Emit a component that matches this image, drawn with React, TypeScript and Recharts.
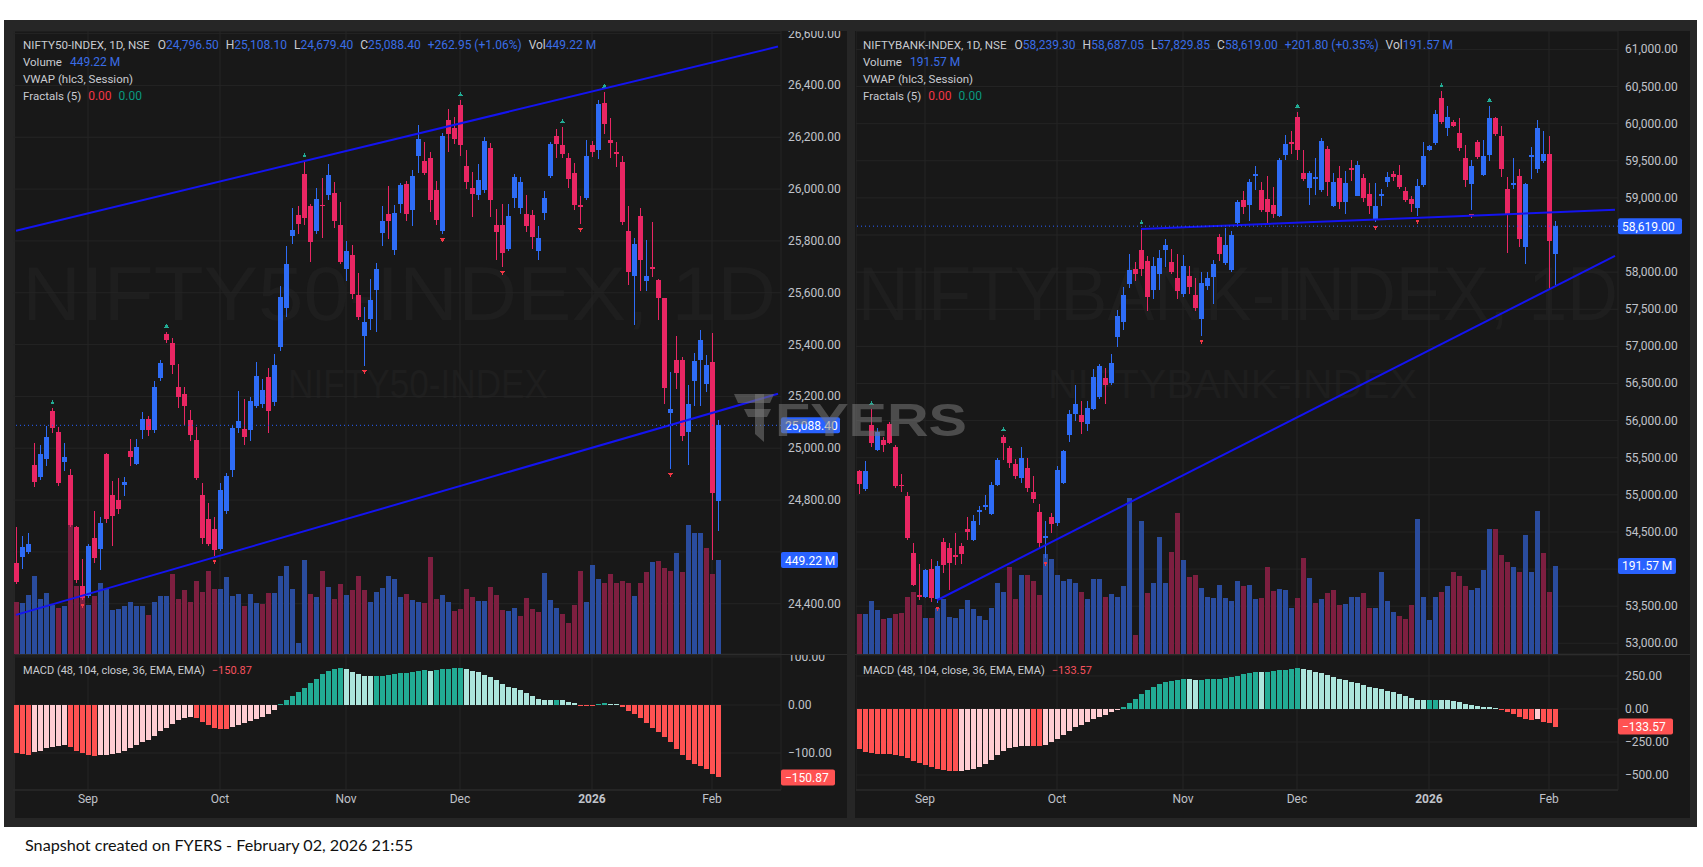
import React from "react"
import {
  ComposedChart,
  Bar,
  XAxis,
  YAxis,
  CartesianGrid,
  ReferenceLine,
} from "recharts"

const FONT = "Roboto, 'Liberation Sans', Arial, sans-serif"
const UP = "#2e6cf6"
const DOWN = "#e92663"
const VOL_UP = "#2a4c9e"
const VOL_DOWN = "#7d1f40"
const M_UP = "#22ab94"
const M_UP_WEAK = "#ace5dc"
const M_DN = "#ff5252"
const M_DN_WEAK = "#ffcdd2"
const PANE_BG = "#181818"
const FRAME_BG = "#262626"
const GRID = "#242424"
const AXIS_TEXT = "#c0c3ca"
const LABEL = "#c9cbd1"
const VALUE = "#3a6de6"
const TREND = "#1414f0"

// x axis: one slot per session, plus empty slots on the right
const SLOTS = 128
const MONTH_TICKS = [12, 34, 55, 74, 96, 116]
const MONTH_LABELS = ["Sep", "Oct", "Nov", "Dec", "2026", "Feb"]

// ---------- NIFTY50 (sessions 0..117) ----------
const N50_OPEN = [24556,24581,24601,24936,24888,24959,25142,25063,24945,24896, 24697,24468,24431,24652,24612,24977,24818,24800,24859,24989, 24940,25069,25114,25069,25272,25441,25408,25238,25210,25110, 25033,24818,24726,24689,24611,24756,24915,25077,25076,25069, 25162,25172,25275,25179,25390,25541,25819,25900,26058,25934, 25838,25940,25978,25984,25860,25693,25745,25590,25432,25498, 25612,25830,25903,25764,25944,26018,25918,26129,26107,26121, 25996,25839,26265,26235,26324,26089,26003,25978,25996,26158, 25863,25863,25767,25967,25928,25904,25899,25762,25907,26049, 26203,26172,26120,26062,25939,25967,26172,26151,26332,26191, 26143,26104,25838,25665,25896,25647,25698,25649,25578,25137, 25340,25340,25062,25258,25340,25246,25332,24796.5]
const N50_HIGH = [24697,24660,24671,25021,25014,25085,25154,25083,25021,24918, 24700,24571,24630,24756,24733,24980,24874,24886,24889,25036, 25036,25140,25125,25258,25339,25450,25427,25324,25236,25147, 25083,24866,24788,24733,24866,24906,25088,25221,25191,25196, 25331,25268,25309,25364,25627,25779,25926,25934,26107,25944, 26003,26043,26096,26028,25951,25801,25786,25678,25545,25653, 25715,25934,26011,25937,26025,26030,26073,26247,26180,26144, 26030,26217,26309,26279,26343,26151,26065,26096,26200,26176, 25922,25944,25943,26057,26046,25978,25920,25857,25994,26183, 26230,26239,26140,26101,25975,26191,26187,26345,26376,26274, 26180,26128,25935,25810,25928,25802,25873,25652,25581,25295, 25432,25353,25243,25369,25455,25361,25443,25108.1]
const N50_LOW = [24475,24534,24593,24852,24878,24930,25058,24856,24911,24697, 24479,24416,24423,24556,24531,24711,24623,24748,24815,24933, 24936,25036,25046,25058,25258,25405,25287,25154,25088,25026, 24878,24630,24623,24586,24605,24748,24889,25058,25014,25029, 25154,25154,25058,25162,25376,25506,25789,25826,25863,25718, 25826,25811,25959,25848,25711,25644,25575,25494,25317,25457, 25450,25782,25807,25745,25907,25878,25856,26062,26055,25912, 25860,25826,26144,26173,26126,25999,25892,25956,25984,25892, 25727,25700,25762,25928,25904,25833,25770,25726,25880,26041, 26120,26120,26006,25920,25865,25959,26124,26117,26211,26120, 26085,25860,25628,25474,25605,25605,25660,25495,25172,24920, 25227,25027,24936,25164,25164,25216,24570,24679.4]
const N50_CLOSE = [24482,24620,24630,24869,24977,25044,25080,24866,24967,24704, 24490,24423,24623,24575,24711,24726,24738,24767,24869,24967, 25004,25113,25069,25236,25327,25417,25321,25196,25162,25051, 24884,24652,24630,24608,24837,24892,25077,25105,25043,25181, 25280,25225,25143,25321,25585,25711,25844,25866,25890,25794, 25963,25934,26055,25875,25720,25763,25594,25506,25489,25571, 25693,25875,25875,25907,26014,25904,26050,26192,26062,25956, 25882,26205,26213,26195,26170,26028,25981,26036,26185,25959, 25836,25752,25896,26046,26027,25857,25817,25813,25967,26175, 26175,26137,26038,25940,25932,26128,26145,26329,26250,26176, 26137,25873,25680,25789,25726,25665,25691,25581,25232,25153, 25290,25046,25172,25337,25416,25321,24825.45,25088.4]
const N50_VOLUME = [247,243,283,375,262,293,234,221,229,618, 326,326,234,276,340,313,212,216,230,247, 229,230,188,247,276,276,384,262,304,247, 348,294,395,311,313,368,276,285,230,289, 243,238,293,293,375,423,313,51,450,289, 271,399,322,262,335,280,307,375,307,247, 298,316,375,357,271,285,256,247,243,466, 265,280,247,207,216,311,271,252,252,322, 280,212,207,220,181,269,215,201,386,256, 220,191,146,236,396,250,425,357,341,382, 338,347,341,279,341,390,439,445,410,396, 484,392,617,577,577,507,382,449.22]
const N50_MACD = [-101,-103,-104,-98,-96,-90,-87,-85,-84,-88, -95,-100,-104,-106,-105,-104,-102,-99,-95,-90, -84,-78,-72,-64,-55,-47,-39,-32,-27,-25, -28,-35,-42,-47,-50,-51,-46,-42,-38,-33, -29,-25,-18,-10,3,10,18,27,36,45, 55,64,70,74,76,74,69,65,61,60, 60,61,63,65,66,67,69,71,73,70, 72,74,75,76,76,74,71,68,63,58, 52,44,38,35,31,25,18,13,11,10, 11,10,7,4,-2,-3,-3,3,5,3, 1,-5,-13,-18,-28,-38,-47,-56,-66,-77, -92,-105,-114,-123,-128,-133,-143,-150.87]
const N50_FRACTAL_UP = [6, 25, 48, 74, 91, 98]
const N50_FRACTAL_DOWN = [11, 33, 58, 71, 81, 94, 109]
const N50_PRICE_TICKS = [24400, 24600, 24800, 25000, 25200, 25400, 25600, 25800, 26000, 26200, 26400, 26600]
const N50_TRENDS = [
  [[0, 25839], [127, 26550]],
  [[0, 24357], [127, 25210]],
]

// ---------- NIFTYBANK (sessions 1..117) ----------
const BANK_OPEN = [55315,55073,55934,55599,55738,55960,55640,55135,54980,54222, 53650,53624,54001,53599,54362,54285,54186,54310,54542,54387, 54764,54841,54748,55135,55779,55625,55419,55228,55367,55042, 54774,54424,54697,54620,55161,55805,56089,56073,55950,56156, 56321,56568,56501,57120,57326,57841,58048,58295,58151,57764, 57981,58295,58140,57919,57702,57944,57697,57362,57816,57934, 58475,58125,58022,58666,58975,58898,59295,59104,58986,58908, 58759,59579,59749,60094,59336,59130,59259,59104,59656,58888, 59269,58949,59400,59032,59268,59059,58702,59021,59208,59323, 59307,59087,58988,58867,59169,59648,59736,60351,59939,60022, 59873,59538,59186,59747,59307,59571,60077,59829,59114,59175, 59296,58345,59554,59389,59499,59593,58239.3]
const BANK_HIGH = [55341,55455,56156,55898,55779,55986,55676,55279,55042,54351, 54063,54001,54130,54104,54424,54351,54490,54351,54697,54733, 54851,54996,55171,55496,55805,55661,55486,55640,55496,55248, 54877,54645,54759,55393,55599,56140,56475,56269,56269,56692, 56759,56707,56898,57496,57805,58238,58135,58589,58218,58202, 58295,58444,58315,58238,58228,58089,57919,57996,57996,58166, 58511,58589,58553,58975,59094,59259,59424,59218,59295,59146, 59542,59852,59903,60161,59646,59362,59542,59800,59697,59336, 59424,59362,59516,59499,59318,59197,59197,59125,59351,59362, 59444,59142,59021,59252,59747,59719,60186,60434,60241,60049, 60077,59719,59510,59774,59774,60241,60088,59967,59279,59543, 59389,59197,59681,60049,59901,59840,58687.05]
const BANK_LOW = [55016,55058,55640,55589,55573,55687,55094,55032,54387,53769, 53588,53614,53563,53547,53950,53717,54053,54063,54387,54372, 54594,54800,54733,55125,55470,55367,55212,55161,55032,54887, 54284,54155,54490,54578,55145,55712,56001,55815,55857,56140, 56295,56218,56475,56991,57223,57790,57877,57944,57470,57635, 57764,58073,57970,57635,57671,57712,57480,57146,57764,57573, 58151,58099,58006,58604,58785,58682,59104,58810,58651,58733, 58744,59517,59594,59506,59233,58908,59042,59079,59027,58872, 58847,58784,59224,59021,58949,58785,58674,58894,59153,59224, 59114,58949,58812,58760,59153,59626,59719,59994,59840,59956, 59637,59142,58839,59527,59296,59499,59829,59279,58262,59114, 58345,58114,59252,59334,59472,57767,57829.85]
const BANK_CLOSE = [55145,55315,55702,55846,55676,55702,55125,55114,54413,53784, 53630,53985,53614,54042,54053,54078,54166,54197,54506,54645, 54800,54862,55135,55470,55702,55434,55248,55496,55094,54939, 54351,54449,54609,55341,55589,56089,56218,55986,56176,56589, 56733,56475,56774,57403,57687,58022,57981,58048,57671,58089, 58192,58367,58006,57749,58083,57805,57517,57852,57919,58115, 58243,58367,58501,58950,58872,59208,59326,58836,58810,58785, 59506,59723,59728,59646,59249,59336,59280,59764,59218,59208, 58939,59197,59378,59444,58993,58894,58894,59059,59279,59279, 59142,58977,58911,59158,59565,59697,60131,60022,60093,59967, 59675,59235,59428,59554,59565,60077,59867,59389,58773,59197, 58444,59186,59576,59939,59593,58417.2,58619]
const BANK_VOLUME = [87,86,115,96,76,79,87,90,125,136, 107,79,79,101,119,80,79,97,117,98, 82,75,101,155,136,190,119,172,172,159, 129,217,207,172,158,163,154,136,119,163, 163,125,130,125,148,340,42,290,133,154, 255,154,222,307,205,167,171,144,125,121, 151,122,115,158,147,151,119,122,190,137, 142,140,101,122,208,165,112,119,133,140, 107,109,125,123,132,100,100,179,116,92, 83,76,107,294,124,74,124,136,148,179, 170,148,139,143,183,271,271,216,200,189, 179,259,179,311,220,136,191.57]
const BANK_MACD = [-305,-325,-336,-338,-340,-341,-345,-360,-375,-395, -412,-428,-442,-457,-462,-467,-470,-468,-465,-455, -440,-415,-385,-350,-318,-298,-285,-280,-278,-280, -282,-270,-248,-225,-195,-165,-140,-120,-98,-78, -60,-42,-20,-5,15,45,78,110,140,170, 190,205,213,220,225,224,222,223,224,225, 227,235,243,250,262,275,282,280,283,285, 292,298,305,308,300,292,283,272,255,240, 230,220,208,196,180,170,158,148,135,125, 112,100,80,68,66,68,69,68,67,60, 52,40,30,22,15,12,6,-3,-20,-38, -60,-75,-80,-78,-95,-108,-133.57]
const BANK_FRACTAL_UP = [3, 25, 48, 74, 98, 106]
const BANK_FRACTAL_DOWN = [14, 32, 58, 87, 94, 103]
const BANK_PRICE_TICKS = [53000, 53500, 54000, 54500, 55000, 55500, 56000, 56500, 57000, 57500, 58000, 58500, 59000, 59500, 60000, 60500, 61000]
const BANK_TRENDS = [
  [[48, 58580], [127, 58840]],
  [[14, 53580], [127, 58220]],
]

function buildRows(first, open, high, low, close, vol, macd, fracUp, fracDown) {
  const rows: any[] = []
  for (let i = first; i < SLOTS; i++) {
    const k = i - first
    if (k >= open.length) {
      rows.push({ i })
      continue
    }
    const prevClose = k > 0 ? close[k - 1] : open[k]
    const prevM = k > 0 ? macd[k - 1] : macd[k]
    const m = macd[k]
    rows.push({
      i,
      o: open[k],
      h: high[k],
      l: low[k],
      c: close[k],
      v: vol[k],
      vUp: close[k] >= prevClose,
      m,
      mCol: m >= 0 ? (m >= prevM ? M_UP : M_UP_WEAK) : m <= prevM ? M_DN : M_DN_WEAK,
      fu: fracUp.includes(i),
      fd: fracDown.includes(i),
    })
  }
  return rows
}

function fmt2(v: number) {
  const a = Math.abs(v).toFixed(2).split(".")
  const int = a[0].replace(/\B(?=(\d{3})+(?!\d))/g, ",")
  return (v < 0 ? "\u2212" : "") + int + "." + a[1]
}

function Candle(props: any) {
  const { x, y, width, height, payload } = props
  if (!payload || payload.o == null || !isFinite(y) || !isFinite(height)) return <g />
  const { o, h, l, c } = payload
  const top = Math.min(y, y + height)
  const span = Math.abs(height)
  const py = (v: number) => top + (h === l ? 0 : ((h - v) / (h - l)) * span)
  const cx = Math.round(x + width / 2 - 0.5)
  const col = c >= o ? UP : DOWN
  const bTop = Math.round(py(Math.max(o, c)))
  const bBot = Math.max(bTop + 1, Math.round(py(Math.min(o, c))))
  return (
    <g shapeRendering="crispEdges">
      <rect x={cx} y={top} width={1} height={Math.max(1, span)} fill={col} />
      <rect x={cx - 2} y={bTop} width={5} height={bBot - bTop} fill={col} />
      {payload.fu && <path d={`M${cx + 0.5} ${top - 8} l2.5 4 h-5 z`} fill="#22ab94" />}
      {payload.fd && <path d={`M${cx + 0.5} ${top + span + 8} l2.5 -4 h-5 z`} fill="#f23645" />}
    </g>
  )
}

function VolBar(props: any) {
  const { x, y, width, height, payload } = props
  if (!payload || payload.v == null || !isFinite(y) || !isFinite(height)) return <g />
  const cx = Math.round(x + width / 2 - 0.5)
  const t = Math.round(Math.min(y, y + height))
  const b = Math.round(Math.max(y, y + height))
  return <rect x={cx - 2} y={t} width={5} height={b - t} fill={payload.vUp ? VOL_UP : VOL_DOWN} shapeRendering="crispEdges" />
}

function MacdBar(props: any) {
  const { x, y, width, height, payload } = props
  if (!payload || payload.m == null || !isFinite(y) || !isFinite(height)) return <g />
  const cx = Math.round(x + width / 2 - 0.5)
  const t = Math.round(Math.min(y, y + height))
  const b = Math.max(t + 1, Math.round(Math.max(y, y + height)))
  return <rect x={cx - 2} y={t} width={5} height={b - t} fill={payload.mCol} shapeRendering="crispEdges" />
}

function Tag(props: any) {
  const { viewBox, text, bg, w } = props
  if (!viewBox) return <g />
  const x = viewBox.x + viewBox.width
  const y = viewBox.y
  return (
    <g>
      <rect x={x} y={y - 8} width={w} height={16} rx={2} fill={bg} />
      <text x={x + 4} y={y + 4.5} fill="#fff" fontSize={12} fontFamily={FONT}>
        {text}
      </text>
    </g>
  )
}

const makePriceTick = (hidden: number[]) => (p: any) => {
  const v = p.payload.value
  if (hidden.includes(v)) return <g />
  return (
    <text x={p.x} y={p.y} dy={4} textAnchor="start" fill={AXIS_TEXT} fontSize={12} fontFamily={FONT}>
      {fmt2(v)}
    </text>
  )
}

function DateTick(p: any) {
  const label = MONTH_LABELS[MONTH_TICKS.indexOf(p.payload.value)]
  return (
    <text x={p.x} y={p.y} dy={13} textAnchor="middle" fill={AXIS_TEXT} fontSize={12}
      fontWeight={label === "2026" ? 700 : 400} fontFamily={FONT}>
      {label}
    </text>
  )
}

function Line1({ x, title, ohlc, change, vol }) {
  return (
    <div style={{ position: "absolute", left: x, top: 38, fontSize: 12, lineHeight: "14px", color: LABEL, whiteSpace: "nowrap" }}>
      <span style={{ fontSize: 11.6 }}>{title}</span>
      {ohlc.map(([k, v], n) => (
        <span key={k} style={{ marginLeft: n === 0 ? 8 : 7 }}>
          {k}
          <span style={{ color: VALUE }}>{v}</span>
        </span>
      ))}
      <span style={{ marginLeft: 7, color: VALUE }}>{change}</span>
      <span style={{ marginLeft: 7 }}>
        Vol<span style={{ color: VALUE }}>{vol}</span>
      </span>
    </div>
  )
}

function Panel({ cfg }) {
  const {
    paneLeft, paneWidth, chartLeft, axisWidth, rows, priceDomain, priceTicks, hiddenTicks,
    volDomain, macdDomain, macdTicks, trends, last, lastVol, lastMacd, tagW, title, ohlc,
    change, wm1, wm2,
  } = cfg
  const chartWidth = paneLeft + paneWidth - chartLeft
  const text = { position: "absolute" as const, left: paneLeft + 8, fontSize: 11.5, lineHeight: "14px", color: LABEL, whiteSpace: "nowrap" as const }
  return (
    <>
      <div style={{ position: "absolute", left: paneLeft, top: 31, width: paneWidth, height: 787, background: PANE_BG }} />
      <svg style={{ position: "absolute", left: paneLeft, top: 31 }} width={paneWidth} height={623}>
        <text x={wm1.x} y={289} fontSize={76} fill="#1e1e1e" fontFamily="'Liberation Sans', Arial"
          textLength={wm1.w} lengthAdjust="spacingAndGlyphs">{wm1.text}</text>
        <text x={wm2.x} y={367} fontSize={40} fill="#1e1e1e" fontFamily="'Liberation Sans', Arial"
          textLength={wm2.w} lengthAdjust="spacingAndGlyphs">{wm2.text}</text>
      </svg>

      <div style={{ position: "absolute", left: chartLeft, top: 31 }}>
        <ComposedChart width={chartWidth} height={623} data={rows} margin={{ top: 0, right: 0, bottom: 0, left: 0 }}>
          <CartesianGrid xAxisId="c" yAxisId="p" stroke={GRID} />
          <XAxis xAxisId="c" dataKey="i" type="category" hide ticks={MONTH_TICKS} />
          <XAxis xAxisId="vx" dataKey="i" type="category" hide />
          <YAxis yAxisId="p" orientation="right" width={axisWidth} domain={priceDomain} allowDataOverflow
            ticks={priceTicks} interval={0} tickLine={false} axisLine={false} tickSize={0} tickMargin={7}
            tick={makePriceTick(hiddenTicks)} />
          <YAxis yAxisId="v" hide domain={volDomain} allowDataOverflow />
          <Bar xAxisId="vx" yAxisId="v" dataKey="v" shape={(p: any) => <VolBar {...p} />} isAnimationActive={false} />
          <Bar xAxisId="c" yAxisId="p" dataKey={(d: any) => (d.l != null ? [d.l, d.h] : undefined)}
            shape={(p: any) => <Candle {...p} />} isAnimationActive={false} />
          {trends.map((t, k) => (
            <ReferenceLine key={k} xAxisId="c" yAxisId="p" ifOverflow="visible" stroke={TREND} strokeWidth={2}
              segment={[{ x: t[0][0], y: t[0][1] }, { x: t[1][0], y: t[1][1] }]} />
          ))}
          <ReferenceLine xAxisId="c" yAxisId="p" y={last} stroke="#2962ff" strokeDasharray="1 3"
            label={<Tag text={fmt2(last)} bg="#2962ff" w={tagW[0]} />} />
          <ReferenceLine xAxisId="c" yAxisId="v" y={lastVol} stroke="none"
            label={<Tag text={lastVol.toFixed(2) + " M"} bg="#2962ff" w={tagW[1]} />} />
        </ComposedChart>
      </div>

      <div style={{ position: "absolute", left: paneLeft, top: 654, width: paneWidth, height: 1, background: "#2c2c2c" }} />

      <div style={{ position: "absolute", left: chartLeft, top: 655 }}>
        <ComposedChart width={chartWidth} height={163} data={rows} margin={{ top: 0, right: 0, bottom: 0, left: 0 }}>
          <CartesianGrid stroke={GRID} />
          <XAxis dataKey="i" type="category" ticks={MONTH_TICKS} interval={0} height={28} tickLine={false}
            tickSize={0} tickMargin={0} axisLine={{ stroke: "#2c2c2c" }} tick={(p: any) => <DateTick {...p} />} />
          <YAxis orientation="right" width={axisWidth} domain={macdDomain} allowDataOverflow ticks={macdTicks}
            interval={0} tickLine={false} axisLine={false} tickSize={0} tickMargin={7} tick={makePriceTick([])} />
          <Bar dataKey="m" shape={(p: any) => <MacdBar {...p} />} isAnimationActive={false} />
          <ReferenceLine y={lastMacd} stroke="none" label={<Tag text={fmt2(lastMacd)} bg="#ff5252" w={tagW[2]} />} />
        </ComposedChart>
      </div>

      <Line1 x={paneLeft + 8} title={title} ohlc={ohlc} change={change} vol={lastVol.toFixed(2) + " M"} />
      <div style={{ ...text, top: 55 }}>
        Volume<span style={{ color: VALUE, marginLeft: 8, fontSize: 12 }}>{lastVol.toFixed(2) + " M"}</span>
      </div>
      <div style={{ ...text, top: 72 }}>VWAP (hlc3, Session)</div>
      <div style={{ ...text, top: 89 }}>
        Fractals (5)<span style={{ color: "#f23645", marginLeft: 7, fontSize: 12 }}>0.00</span>
        <span style={{ color: "#089981", marginLeft: 7, fontSize: 12 }}>0.00</span>
      </div>
      <div style={{ ...text, fontSize: 11, top: 664 }}>
        MACD (48, 104, close, 36, EMA, EMA)<span style={{ color: "#f7525f", marginLeft: 7 }}>{fmt2(lastMacd)}</span>
      </div>
    </>
  )
}

const N50 = {
  paneLeft: 15, paneWidth: 832, chartLeft: 13, axisWidth: 66,
  rows: buildRows(0, N50_OPEN, N50_HIGH, N50_LOW, N50_CLOSE, N50_VOLUME, N50_MACD, N50_FRACTAL_UP, N50_FRACTAL_DOWN),
  priceDomain: [24206, 26610], priceTicks: N50_PRICE_TICKS, hiddenTicks: [24600],
  volDomain: [0, 2978], macdDomain: [-177, 104], macdTicks: [100, 0, -100],
  trends: N50_TRENDS, last: 25088.4, lastVol: 449.22, lastMacd: -150.87, tagW: [59, 57, 54],
  title: "NIFTY50-INDEX, 1D, NSE",
  ohlc: [["O", "24,796.50"], ["H", "25,108.10"], ["L", "24,679.40"], ["C", "25,088.40"]],
  change: "+262.95 (+1.06%)",
  wm1: { text: "NIFTY50-INDEX, 1D", x: 7, w: 754 },
  wm2: { text: "NIFTY50-INDEX", x: 273, w: 260 },
}

const BANK = {
  paneLeft: 855, paneWidth: 835, chartLeft: 856, axisWidth: 72,
  rows: buildRows(1, BANK_OPEN, BANK_HIGH, BANK_LOW, BANK_CLOSE, BANK_VOLUME, BANK_MACD, BANK_FRACTAL_UP, BANK_FRACTAL_DOWN),
  priceDomain: [52856, 61248], priceTicks: BANK_PRICE_TICKS, hiddenTicks: [58500, 54000],
  volDomain: [0, 1356], macdDomain: [-614, 409], macdTicks: [250, 0, -250, -500],
  trends: BANK_TRENDS, last: 58619, lastVol: 191.57, lastMacd: -133.57, tagW: [64, 58, 55],
  title: "NIFTYBANK-INDEX, 1D, NSE",
  ohlc: [["O", "58,239.30"], ["H", "58,687.05"], ["L", "57,829.85"], ["C", "58,619.00"]],
  change: "+201.80 (+0.35%)",
  wm1: { text: "NIFTYBANK-INDEX, 1D", x: 3, w: 760 },
  wm2: { text: "NIFTYBANK-INDEX", x: 193, w: 369 },
}

function Logo() {
  const fill = "rgba(120,120,120,0.55)"
  return (
    <svg style={{ position: "absolute", left: 730, top: 388 }} width={245} height={60}>
      <polygon points="4,6 44,6 40,15 8,15" fill={fill} />
      <polygon points="14,21 41,21 37,29 18,29" fill={fill} />
      <polygon points="25,6 34,6 34,54 25,46" fill={fill} />
      <text x={45} y={48} fontSize={46} fontWeight={700} fill={fill} fontFamily="'Liberation Sans', Arial"
        textLength={192} lengthAdjust="spacingAndGlyphs">FYERS</text>
    </svg>
  )
}

export default function App() {
  return (
    <div style={{ position: "absolute", left: 0, top: 0, width: 1703, height: 867, background: "#fff", overflow: "hidden", fontFamily: FONT }}>
      <div style={{ position: "absolute", left: 4, top: 20, width: 1693, height: 807, background: FRAME_BG }} />
      <Panel cfg={N50} />
      <Panel cfg={BANK} />
      <Logo />
      <div style={{ position: "absolute", left: 25, top: 835, fontSize: 16.2, color: "#111", fontFamily: "Lato, 'Liberation Sans', sans-serif", whiteSpace: "nowrap" }}>
        Snapshot created on FYERS - February 02, 2026 21:55
      </div>
    </div>
  )
}
